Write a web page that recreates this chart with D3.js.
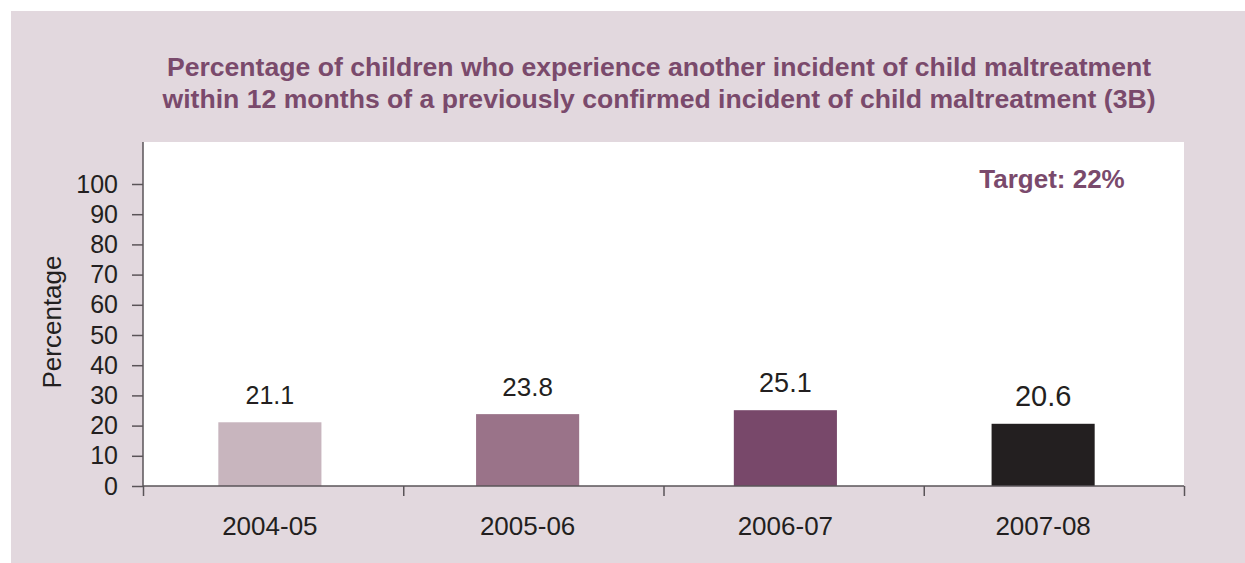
<!DOCTYPE html>
<html>
<head>
<meta charset="utf-8">
<script src="https://cdn.jsdelivr.net/npm/d3@7"></script>
<style>
  html, body { margin: 0; padding: 0; background: #ffffff; }
  svg { display: block; }
  text { font-family: "Liberation Sans", Arial, Helvetica, sans-serif; }
</style>
</head>
<body>
<svg id="chart" width="1245" height="563"></svg>
<script>
const categories = ["2004-05", "2005-06", "2006-07", "2007-08"];
const values = [21.1, 23.8, 25.1, 20.6];
const barColors = ["#c8b5be", "#9a7389", "#78486a", "#231f20"];
const valueFontSizes = [25, 26, 27, 29];
const yTicks = [0, 10, 20, 30, 40, 50, 60, 70, 80, 90, 100];
const titleLines = [
  "Percentage of children who experience another incident of child maltreatment",
  "within 12 months of a previously confirmed incident of child maltreatment (3B)"
];
const targetLabel = "Target: 22%";
const yLabel = "Percentage";

const svg = d3.select("#chart");
const W = 1245, H = 563;
const bg = "#e2d8de", titleColor = "#7a4a6c", axisColor = "#5a5458";

svg.append("rect").attr("x", 11).attr("y", 11).attr("width", W - 11).attr("height", H - 11).attr("fill", bg);

const plot = { left: 143, right: 1184, top: 142, bottom: 486 };
const y = d3.scaleLinear().domain([0, 100]).range([486, 184]);
const xBars = d3.scaleBand().domain(categories).range([141, 1172]).paddingInner(0.6).paddingOuter(0.3);
const xTicks = d3.scaleLinear().domain([0, categories.length]).range([plot.left, plot.right]);

// plot area
svg.append("rect").attr("x", plot.left).attr("y", plot.top)
  .attr("width", plot.right - plot.left).attr("height", plot.bottom - plot.top).attr("fill", "#ffffff");

// title
svg.append("g").selectAll("text").data(titleLines).join("text")
  .attr("x", 659).attr("y", (d, i) => 76 + i * 32)
  .attr("text-anchor", "middle").attr("font-weight", "bold").attr("font-size", 26.6)
  .attr("fill", titleColor).text(d => d);

// bars
svg.append("g").selectAll("rect").data(values).join("rect")
  .attr("x", (d, i) => xBars(categories[i]))
  .attr("width", xBars.bandwidth())
  .attr("y", d => y(d))
  .attr("height", d => y(0) - y(d))
  .attr("fill", (d, i) => barColors[i]);

// value labels
svg.append("g").selectAll("text").data(values).join("text")
  .attr("x", (d, i) => xBars(categories[i]) + xBars.bandwidth() / 2)
  .attr("y", d => y(d) - 18)
  .attr("text-anchor", "middle").attr("font-size", (d, i) => valueFontSizes[i]).attr("fill", "#231f20")
  .text(d => d.toFixed(1));

// y axis
const yAxis = svg.append("g").attr("transform", `translate(${plot.left},0)`)
  .call(d3.axisLeft(y).tickValues(yTicks).tickSize(11).tickPadding(14));
yAxis.select(".domain").attr("d", `M0,${plot.top}V${plot.bottom}`);
yAxis.selectAll("line").attr("stroke", axisColor).attr("stroke-width", 1.5);
yAxis.select(".domain").attr("stroke", axisColor).attr("stroke-width", 1.5);
yAxis.selectAll("text").attr("font-size", 25).attr("fill", "#231f20")
  .attr("font-family", "Liberation Sans, Arial, sans-serif");

// x axis (boundary ticks)
const xAxis = svg.append("g").attr("transform", `translate(0,${plot.bottom})`)
  .call(d3.axisBottom(xTicks).tickValues(d3.range(categories.length + 1)).tickSize(10).tickFormat(""));
xAxis.select(".domain").attr("d", `M${plot.left},0H${plot.right}`).attr("stroke", axisColor).attr("stroke-width", 1.5);
xAxis.selectAll("line").attr("stroke", axisColor).attr("stroke-width", 1.5);

// category labels
svg.append("g").selectAll("text").data(categories).join("text")
  .attr("x", d => xBars(d) + xBars.bandwidth() / 2)
  .attr("y", 535)
  .attr("text-anchor", "middle").attr("font-size", 26).attr("fill", "#231f20")
  .text(d => d);

// target
svg.append("text").attr("x", 1052).attr("y", 188).attr("text-anchor", "middle")
  .attr("font-weight", "bold").attr("font-size", 26).attr("fill", titleColor).text(targetLabel);

// y label
svg.append("text").attr("transform", "translate(61,322) rotate(-90)")
  .attr("text-anchor", "middle").attr("font-size", 26).attr("fill", "#231f20").text(yLabel);
</script>
</body>
</html>
